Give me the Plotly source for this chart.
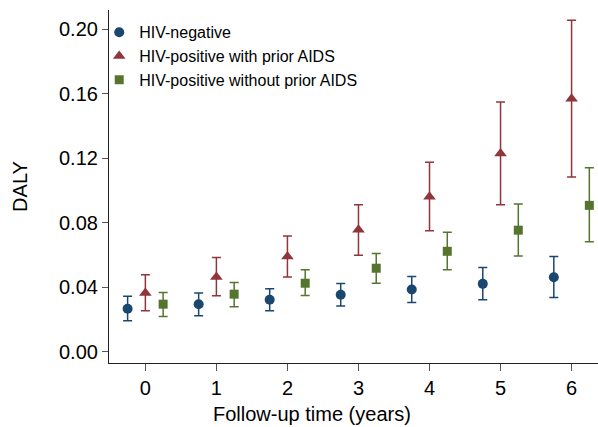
import plotly.graph_objects as go

# Follow-up time points (years)
years = [0, 1, 2, 3, 4, 5, 6]

# DALY estimates with 95% CI bounds per group
hiv_neg = [0.0267, 0.0295, 0.0322, 0.0353, 0.0386, 0.0421, 0.0462]
hiv_neg_lo = [0.0192, 0.0223, 0.0254, 0.0283, 0.0305, 0.0322, 0.0336]
hiv_neg_hi = [0.0344, 0.0365, 0.0390, 0.0423, 0.0466, 0.0522, 0.0590]

hiv_aids = [0.0365, 0.0463, 0.0590, 0.0756, 0.0962, 0.1230, 0.1570]
hiv_aids_lo = [0.0254, 0.0347, 0.0464, 0.0598, 0.0751, 0.0912, 0.1084]
hiv_aids_hi = [0.0477, 0.0584, 0.0718, 0.0912, 0.1176, 0.1550, 0.2056]

hiv_noaids = [0.0295, 0.0357, 0.0425, 0.0518, 0.0623, 0.0754, 0.0908]
hiv_noaids_lo = [0.0219, 0.0279, 0.0349, 0.0425, 0.0508, 0.0594, 0.0683]
hiv_noaids_hi = [0.0367, 0.0429, 0.0508, 0.0609, 0.0741, 0.0916, 0.1141]

group_names = ["HIV-negative", "HIV-positive with prior AIDS", "HIV-positive without prior AIDS"]
x_title = "Follow-up time (years)"
y_title = "DALY"

FONT = "Liberation Sans, Arial, sans-serif"

series = [
    (group_names[0], hiv_neg, hiv_neg_lo, hiv_neg_hi, -0.25, "#1a476f", "circle", 10),
    (group_names[1], hiv_aids, hiv_aids_lo, hiv_aids_hi, 0.0, "#90353b", "triangle-up", 11),
    (group_names[2], hiv_noaids, hiv_noaids_lo, hiv_noaids_hi, 0.25, "#55752f", "square", 9),
]

fig = go.Figure()
for name, est, lo, hi, shift, color, symbol, size in series:
    fig.add_trace(go.Scatter(
        x=[t + shift for t in years],
        y=est,
        mode="markers",
        name=name,
        marker=dict(color=color, symbol=symbol, size=size, line=dict(width=0)),
        error_y=dict(
            type="data",
            symmetric=False,
            array=[h - e for h, e in zip(hi, est)],
            arrayminus=[e - l for e, l in zip(est, lo)],
            color=color,
            thickness=1.5,
            width=4.5,
        ),
    ))

# x-axis title sits left of the plot-area centre
fig.add_annotation(
    text=x_title, xref="paper", yref="paper",
    x=0.415, y=-0.145, xanchor="center", yanchor="middle",
    showarrow=False, font=dict(family=FONT, size=20, color="black"),
)

fig.update_layout(
    width=598,
    height=427,
    margin=dict(l=109, r=0, t=10, b=64),
    paper_bgcolor="white",
    plot_bgcolor="white",
    font=dict(family=FONT, color="black", size=20),
    showlegend=True,
    legend=dict(
        x=-0.02, y=0.985, xanchor="left", yanchor="top",
        font=dict(family=FONT, size=16, color="black"),
        bgcolor="rgba(0,0,0,0)",
        tracegroupgap=0,
        itemclick=False,
    ),
    xaxis=dict(
        range=[-0.512, 6.372],
        tickmode="array",
        tickvals=years,
        ticktext=[str(t) for t in years],
        showgrid=False,
        zeroline=False,
        showline=True,
        linecolor="#222222",
        linewidth=1.2,
        ticks="outside",
        ticklen=7,
        tickcolor="#555555",
        tickwidth=1.2,
        tickfont=dict(size=20),
    ),
    yaxis=dict(
        range=[-0.0070, 0.2120],
        tick0=0,
        dtick=0.04,
        tickformat=".2f",
        showgrid=False,
        zeroline=False,
        showline=True,
        linecolor="#222222",
        linewidth=1.2,
        ticks="outside",
        ticklen=6,
        tickcolor="#555555",
        tickwidth=1.2,
        tickfont=dict(size=20),
        title=dict(text=y_title, font=dict(size=20), standoff=25),
    ),
)

fig.write_html("out.html")
